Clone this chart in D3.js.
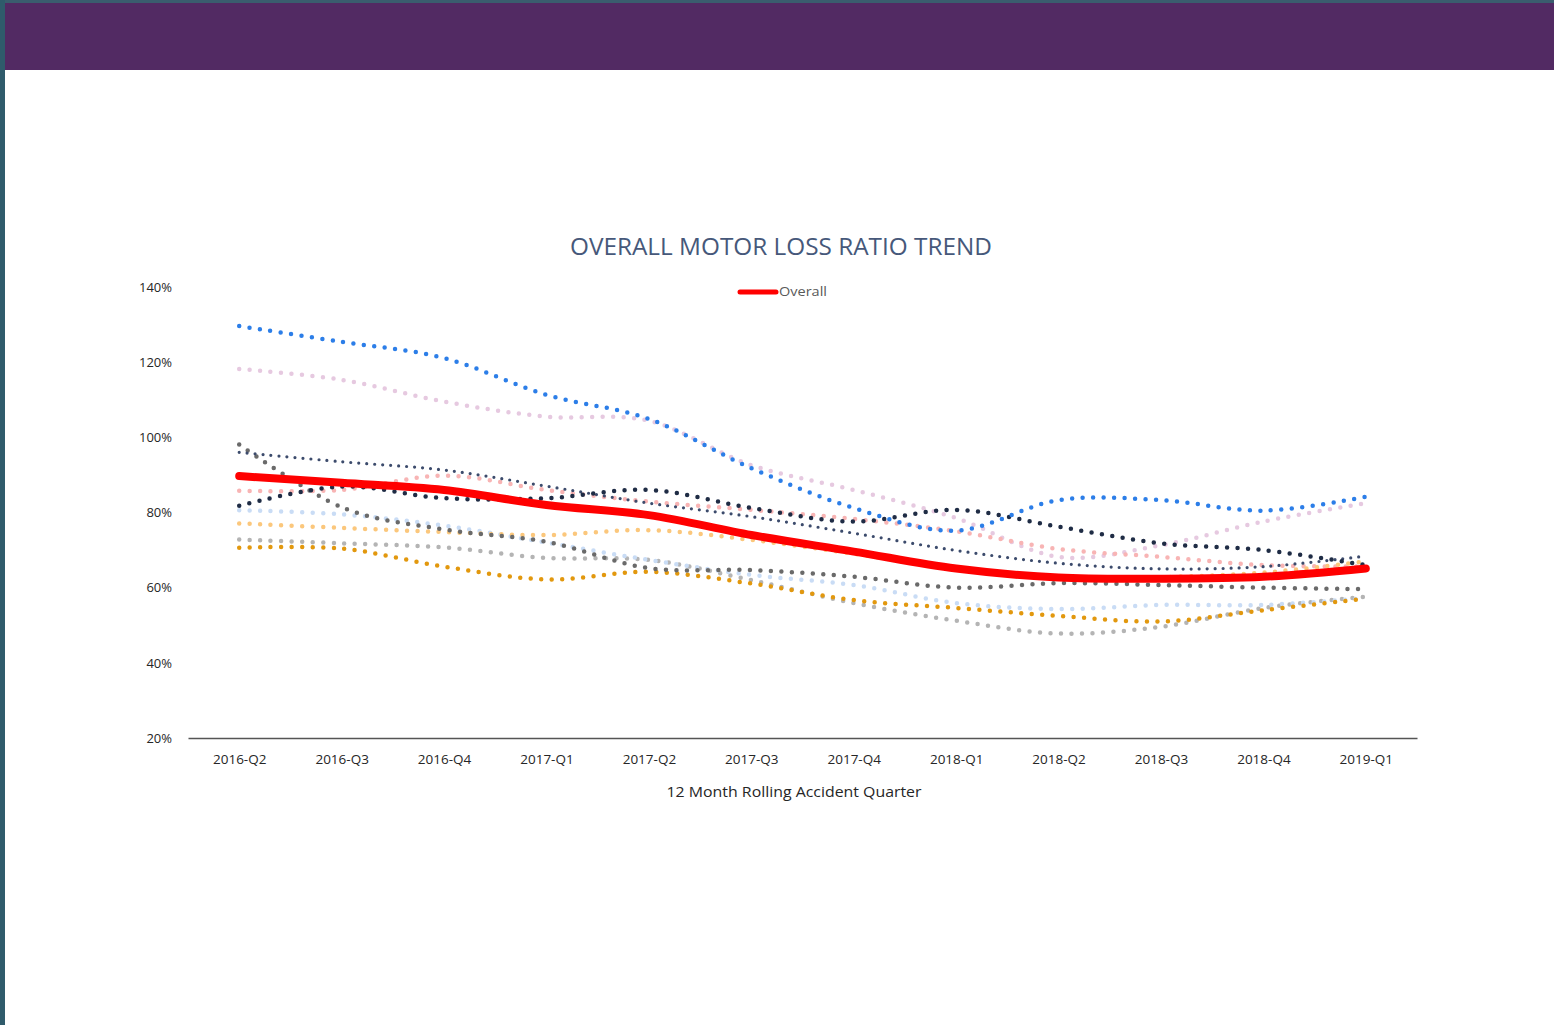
<!DOCTYPE html>
<html>
<head>
<meta charset="utf-8">
<script src="https://cdn.jsdelivr.net/npm/d3@7"></script>
<style>
  html, body { margin: 0; padding: 0; background: #fff; }
  svg { display: block; }
  .tick-y { font: 13px "Open Sans", sans-serif; fill: #262626; }
  .tick-x { font: 13.5px "Open Sans", sans-serif; fill: #262626; }
</style>
</head>
<body>
<svg id="chart" width="1554" height="1025"></svg>
<script>
const quarters = ['2016-Q2', '2016-Q3', '2016-Q4', '2017-Q1', '2017-Q2', '2017-Q3', '2017-Q4', '2018-Q1', '2018-Q2', '2018-Q3', '2018-Q4', '2019-Q1'];
const yTicks = [20, 40, 60, 80, 100, 120, 140];

// unnamed segment lines (dotted), values in %
const blueSeg = [129.6, 125.4, 121.1, 111.3, 104.9, 91.8, 81.2, 75.2, 83.3, 83.3, 80.5, 84.2];
const lavenderSeg = [118.2, 115.3, 109.5, 105.5, 104.4, 92.6, 86, 78.5, 68.2, 71.3, 77.6, 82.5];
const salmonSeg = [85.8, 86, 89.8, 86, 82.9, 80.7, 78.3, 75, 70.3, 68.2, 66, 65.6];
const navySeg = [81.8, 86.9, 83.8, 83.8, 86, 81.2, 77.6, 80.7, 76.2, 71.8, 70, 66];
const slateSeg = [96, 93.5, 91.3, 87, 82.5, 78.9, 74.5, 69.9, 66.5, 65, 65.6, 68.4];
const grayDarkSeg = [98.1, 81.4, 75.5, 72.2, 65.2, 64.7, 62.9, 60, 61.2, 60.7, 60, 59.6];
const skySeg = [80.6, 79.5, 76.5, 72, 67.4, 63.4, 60.7, 55.9, 54.3, 55.4, 55.4, 57.2];
const peachSeg = [77.1, 75.9, 74.8, 74, 75.3, 72.7, 69, 65, 62.5, 62.8, 64, 67];
const grayLightSeg = [72.8, 71.8, 70.7, 67.9, 67.4, 62, 55.9, 51.2, 47.8, 49.6, 54.6, 57.6];
const amberSeg = [70.6, 70.4, 65.6, 62.2, 64.2, 61.1, 56.7, 54.6, 52.5, 51, 54, 57.1];
const overall = [89.7, 87.9, 86, 82, 79.3, 74, 69.6, 65.1, 62.7, 62.4, 62.9, 65.1];

const svg = d3.select('#chart');

// page frame: purple banner with teal edge
svg.append('rect').attr('x', 0).attr('y', 0).attr('width', 1554).attr('height', 1025).attr('fill', '#fff');
svg.append('rect').attr('x', 0).attr('y', 0).attr('width', 1554).attr('height', 3).attr('fill', '#3a5d6e');
svg.append('rect').attr('x', 5).attr('y', 3).attr('width', 1549).attr('height', 67).attr('fill', '#522a63');
svg.append('rect').attr('x', 0).attr('y', 0).attr('width', 5).attr('height', 1025).attr('fill', '#2f5b6b');

const x = d3.scalePoint().domain(quarters).range([188, 1417]).padding(0.5);
const y = d3.scaleLinear().domain([20, 140]).range([738, 287]);

// title
svg.append('text').attr('x', 781).attr('y', 255).attr('text-anchor', 'middle')
  .attr('textLength', 422).attr('lengthAdjust', 'spacingAndGlyphs')
  .style('font', '24px "Open Sans", sans-serif').attr('fill', '#46587a')
  .text('OVERALL MOTOR LOSS RATIO TREND');

// legend
svg.append('line').attr('x1', 740).attr('x2', 776).attr('y1', 292).attr('y2', 292)
  .attr('stroke', '#ff0000').attr('stroke-width', 5).attr('stroke-linecap', 'round');
svg.append('text').attr('x', 779).attr('y', 296).style('font', '13px "Open Sans", sans-serif')
  .attr('fill', '#595959').attr('textLength', 48).attr('lengthAdjust', 'spacingAndGlyphs').text('Overall');

// y axis labels (no axis line)
const yAxis = svg.append('g').attr('transform', 'translate(172,0)')
  .call(d3.axisLeft(y).tickValues(yTicks).tickSize(0).tickPadding(0).tickFormat((d) => `${d}%`));
yAxis.select('.domain').remove();
yAxis.selectAll('text').attr('class', 'tick-y').attr('dy', '0.32em');

// x axis
const xAxis = svg.append('g').attr('transform', 'translate(0,738)')
  .call(d3.axisBottom(x).tickSize(0).tickPadding(16));
xAxis.select('.domain').attr('stroke', '#555').attr('stroke-width', 1.5);
xAxis.selectAll('text').attr('class', 'tick-x');

svg.append('text').attr('x', 794).attr('y', 797).attr('text-anchor', 'middle')
  .style('font', '14px "Open Sans", sans-serif').attr('fill', '#262626')
  .attr('textLength', 255).attr('lengthAdjust', 'spacingAndGlyphs')
  .text('12 Month Rolling Accident Quarter');

const line = d3.line().x((d, i) => x(quarters[i])).y((d) => y(d)).curve(d3.curveCardinal.tension(0));

const segs = [
  { v: lavenderSeg, c: '#e6c9e0', w: 4.5, gap: 10.5 },
  { v: salmonSeg, c: '#f8b4b4', w: 4.5, gap: 10.5 },
  { v: grayLightSeg, c: '#b4b4b4', w: 4.5, gap: 10.5 },
  { v: skySeg, c: '#c9dcf5', w: 4.5, gap: 10.5 },
  { v: peachSeg, c: '#fbc77c', w: 4.5, gap: 10.5 },
  { v: amberSeg, c: '#e2980e', w: 4.5, gap: 10.5 },
  { v: grayDarkSeg, c: '#6a6a6a', w: 4.5, gap: 10.5 },
  { v: slateSeg, c: '#3c4b6c', w: 3.2, gap: 8 },
  { v: navySeg, c: '#1f2c45', w: 4.5, gap: 10.5 },
  { v: blueSeg, c: '#2c7ee8', w: 4.5, gap: 10.5 },
];

svg.append('g').selectAll('path').data(segs).join('path')
  .attr('d', (d) => line(d.v))
  .attr('fill', 'none')
  .attr('stroke', (d) => d.c)
  .attr('stroke-width', (d) => d.w)
  .attr('stroke-linecap', 'round')
  .attr('stroke-dasharray', (d) => `0 ${d.gap}`);

svg.append('path').attr('d', line(overall)).attr('fill', 'none')
  .attr('stroke', '#ff0000').attr('stroke-width', 8).attr('stroke-linecap', 'round');
</script>
</body>
</html>
